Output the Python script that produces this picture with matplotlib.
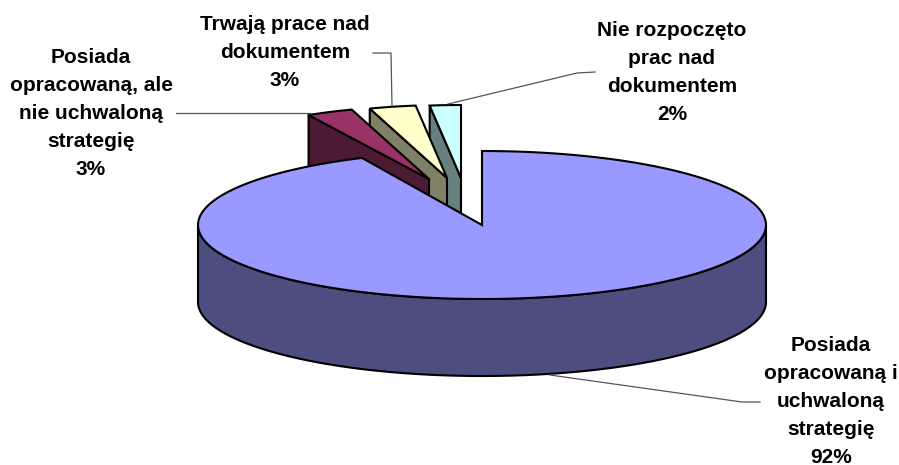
import numpy as np
import matplotlib
matplotlib.use("Agg")
import matplotlib.pyplot as plt
from matplotlib.patches import Polygon

categories = ["Posiada\nopracowaną i\nuchwaloną\nstrategię",
              "Posiada\nopracowaną, ale\nnie uchwaloną\nstrategię",
              "Trwają prace nad\ndokumentem",
              "Nie rozpoczęto\nprac nad\ndokumentem"]
shares = [92, 3, 3, 2]
top_colors = ["#9999FF", "#993366", "#FFFFCC", "#CCFFFF"]
side_colors = ["#4D4D80", "#4D1A33", "#808066", "#668080"]

# pie geometry in pixels
cx, cy = 482, 225
a, b = 284, 74
depth = 77
small_a, small_b = 250, 73
small_tips = {1: (429, 179), 2: (447, 178), 3: (461, 178)}
big_extra = 3.8  # 3d rotation makes the big slice look a bit bigger
ec = "black"
lw = 1.5
gray = "#555555"

label_pos = [(831, 401), (91, 113), (285, 52), (672, 72)]
leaders = [[(550, 375), (742, 402), (760, 402)],
           [(176, 113), (310, 113)],
           [(373, 53), (391, 53), (392, 106)],
           [(448, 104), (577, 73), (595, 72)]]

fig = plt.figure(figsize=(8.99, 4.65), dpi=100)
ax = fig.add_axes([0, 0, 1, 1])
ax.set_xlim(0, 899)
ax.set_ylim(465, 0)
ax.axis("off")


def arc(x0, y0, rx, ry, t1, t2):
    # angles clockwise from 12 o'clock, degrees
    t = np.radians(np.linspace(t1, t2, 200))
    return np.column_stack([x0 + rx * np.sin(t), y0 - ry * np.cos(t)])


# slice boundaries going clockwise from the top
ends = np.cumsum(shares) / sum(shares) * 360
starts = np.concatenate([[0], ends[:-1]])

# small exploded slices, back to front
for i in [3, 2, 1]:
    tx, ty = small_tips[i]
    outer = arc(tx, ty, small_a, small_b, starts[i] - 360, ends[i] - 360)
    p_end = outer[0]
    wall = np.array([[tx, ty], p_end, p_end + [0, depth], [tx, ty + depth]])
    ax.add_patch(Polygon(wall, closed=True, fc=side_colors[i], ec=ec, lw=lw, zorder=2 + (3 - i)))
    top = np.vstack([[tx, ty], outer])
    ax.add_patch(Polygon(top, closed=True, fc=top_colors[i], ec=ec, lw=lw, zorder=2 + (3 - i)))

# big slice
big_end = ends[0] + big_extra
front = arc(cx, cy, a, b, 90, 270)
side = np.vstack([front, (front + [0, depth])[::-1]])
ax.add_patch(Polygon(side, closed=True, fc=side_colors[0], ec=ec, lw=lw, zorder=6))
top = np.vstack([[cx, cy], arc(cx, cy, a, b, 0, big_end)])
ax.add_patch(Polygon(top, closed=True, fc=top_colors[0], ec=ec, lw=lw, zorder=7))

for pts in leaders:
    xs, ys = zip(*pts)
    ax.plot(xs, ys, color=gray, lw=0.9, zorder=8)

for name, val, (x, y) in zip(categories, shares, label_pos):
    ax.text(x, y, f"{name}\n{val}%", ha="center", va="center", family="Liberation Sans",
            fontweight="bold", fontsize=15, linespacing=1.6, color="black")

fig.savefig("out.png", dpi=100)
